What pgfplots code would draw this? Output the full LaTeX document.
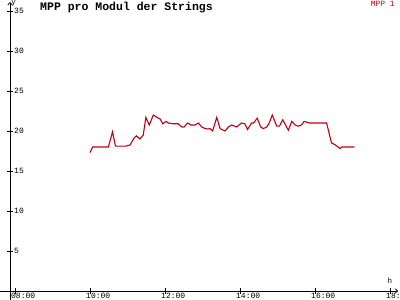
\documentclass[border=0pt]{standalone}
\usepackage{pgfplots}
\pgfplotsset{compat=1.18}
\usetikzlibrary{arrows.meta}
\usepackage{fontspec}
\setmainfont{Liberation Mono}
\definecolor{mppred}{RGB}{190,0,20}
\begin{document}
\begin{tikzpicture}
\begin{axis}[
  x=37.5pt, y=8pt,
  xmin=7.867, xmax=18.21, ymin=0, ymax=36.1,
  axis lines=left,
  axis line style={-{To[length=3pt,width=5pt]}, line width=0.8pt},
  clip=false,
  xtick={8,10,12,14,16,18},
  xticklabels={08:00,10:00,12:00,14:00,16:00,18:00},
  ytick={5,10,15,20,25,30,35},
  tick align=center,
  major tick length=6pt,
  tick style={line width=0.8pt, black},
  /pgf/number format/assume math mode=true,
  ticklabel style={font=\fontsize{8}{9}\selectfont},
  xticklabel style={anchor=north west, xshift=-4pt, yshift=1pt, inner sep=0pt},
  yticklabel style={anchor=west, xshift=7pt, inner sep=0pt},
]
\addplot[mppred, line width=1.1pt] coordinates {
(10.00,17.3) (10.07,18.0) (10.49,18.0) (10.60,19.9) (10.68,18.1) (10.95,18.1)
(11.07,18.25) (11.17,19.1) (11.24,19.4) (11.33,19.0) (11.42,19.5) (11.49,21.7)
(11.58,20.75) (11.69,22.0) (11.82,21.6) (11.87,21.5) (11.94,20.9) (12.03,21.2)
(12.09,21.0) (12.22,20.9) (12.35,20.9) (12.45,20.5) (12.51,20.5) (12.60,21.0)
(12.69,20.75) (12.80,20.75) (12.89,21.0) (12.98,20.5) (13.07,20.3) (13.15,20.25)
(13.20,20.3) (13.27,20.0) (13.38,21.7) (13.47,20.3) (13.60,20.0) (13.69,20.5)
(13.78,20.75) (13.91,20.5) (14.04,21.0) (14.13,20.9) (14.20,20.2) (14.31,21.0)
(14.36,21.0) (14.46,21.6) (14.55,20.5) (14.62,20.3) (14.71,20.5) (14.78,21.0)
(14.86,22.0) (14.98,20.6) (15.05,20.6) (15.14,21.4) (15.23,20.6) (15.29,20.1)
(15.38,21.2) (15.47,20.75) (15.55,20.6) (15.64,20.75) (15.71,21.2) (15.85,21.0)
(16.31,21.0) (16.44,18.5) (16.53,18.3) (16.67,17.8) (16.71,18.0) (17.05,18.0)
};
\draw[line width=0.8pt] (axis cs:7.6,0) -- (axis cs:7.867,0);
\draw[line width=0.8pt] (axis cs:7.867,-1.125) -- (axis cs:7.867,0);
\node[anchor=north west, inner sep=0pt, font=\bfseries\fontsize{11.5}{12}\selectfont] at (axis cs:8.667,36.1) {MPP pro Modul der Strings};
\node[anchor=north east, inner sep=0pt, text=mppred, font=\fontsize{8}{9}\selectfont] at (axis cs:18.133,36.2) {MPP 1};
\node[anchor=north west, inner sep=0pt, font=\fontsize{7.5}{8}\selectfont] at (axis cs:7.9,36.3) {y};
\node[anchor=south west, inner sep=0pt, font=\fontsize{7.5}{8}\selectfont] at (axis cs:17.93,0.85) {h};
\coordinate (BL) at (axis cs:7.6,-1.125);
\coordinate (TR) at (axis cs:18.2667,36.375);
\end{axis}
\pgfresetboundingbox
\useasboundingbox (BL) rectangle (TR);
\end{tikzpicture}
\end{document}
